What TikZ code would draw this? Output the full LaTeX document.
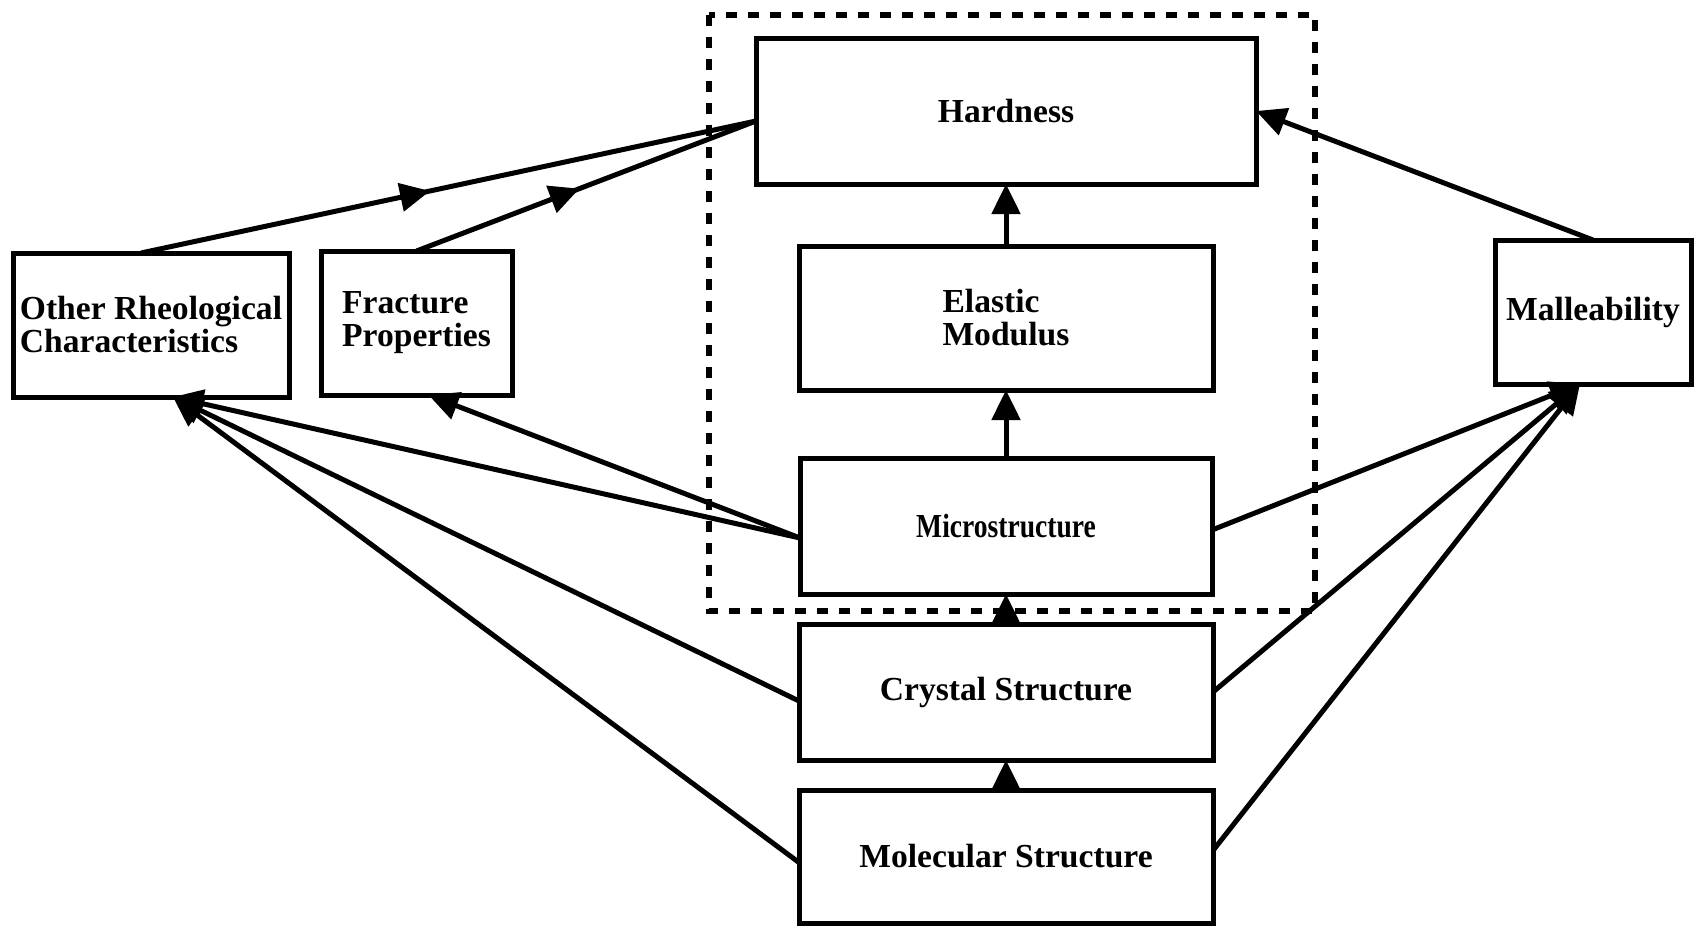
\documentclass[tikz,border=0pt]{standalone}
\usepackage{fontspec}
\setmainfont{Liberation Serif}
\usetikzlibrary{arrows.meta,positioning,decorations.markings}

\begin{document}
\begin{tikzpicture}[->,>={Triangle[length=15pt,width=14pt]},line width=2.5pt,
                    x=0.5pt,y=-0.5pt,node distance=15pt,
                    box node/.style={rectangle,draw,outer sep=0pt,align=left,
                      font=\fontsize{16.8}{16.5}\selectfont\bfseries},
                    mid arrow/.style={-,postaction={decorate},
                      decoration={markings,mark=at position #1 with {\arrow{>}}}}]

  \useasboundingbox (0,0) rectangle (1697,926);

  % centre column, from the bottom up
  \node[box node,minimum width=207pt,minimum height=66.5pt] (mol) at (1006,856.5) {Molecular Structure};
  \node[box node,minimum width=207pt,minimum height=68pt] (cryst) [above=of mol] {Crystal Structure};
  \node[box node,minimum width=206pt,minimum height=68pt] (micro) [above=of cryst] {\scalebox{0.82}[1]{Microstructure}};
  \node[box node,minimum width=207pt,minimum height=72pt] (elastic) [above=34pt of micro] {Elastic\\Modulus\hspace{8pt}};
  \node[box node,minimum width=250pt,minimum height=73pt] (hard) [above=31pt of elastic] {Hardness};

  % side boxes
  \node[box node,minimum width=138pt,minimum height=72pt,inner sep=1pt] (other) at (151,325) {Other Rheological\\Characteristics};
  \node[box node,minimum width=95.5pt,minimum height=72pt] (fract) at (416.5,323) {Fracture\\Properties};
  \node[box node,minimum width=98pt,minimum height=72pt] (mall) at (1593,312) {Malleability};

  % dashed frame round the hardness group
  \draw[-,dash pattern=on 5.5pt off 5.5pt,line width=2.8pt] (709,15) rectangle (1315,611);

  \coordinate (hard in)  at ([yshift=-5pt]hard.west);
  \coordinate (other in) at ([xshift=11pt]other.south);
  \coordinate (fract in) at ([xshift=6pt]fract.south);
  \coordinate (mall in)  at ([xshift=-6.5pt]mall.south);

  \path (mol) edge (cryst)
        (cryst) edge (micro)
        (micro) edge (elastic)
        (elastic) edge (hard)
        (mall.north) edge (hard.east)
        ([yshift=-6pt]micro.west) edge (other in)
                                  edge (fract in)
        ([yshift=-4.5pt]cryst.west) edge (other in)
        ([yshift=-3pt]mol.west) edge (other in)
        ([yshift=-2pt]micro.east) edge (mall in)
        (cryst.east) edge (mall in)
        ([yshift=3pt]mol.east) edge (mall in);

  \draw[mid arrow=0.47] ([xshift=-5pt]other.north) -- (hard in);
  \draw[mid arrow=0.48] (fract.north) -- (hard in);

\end{tikzpicture}
\end{document}
